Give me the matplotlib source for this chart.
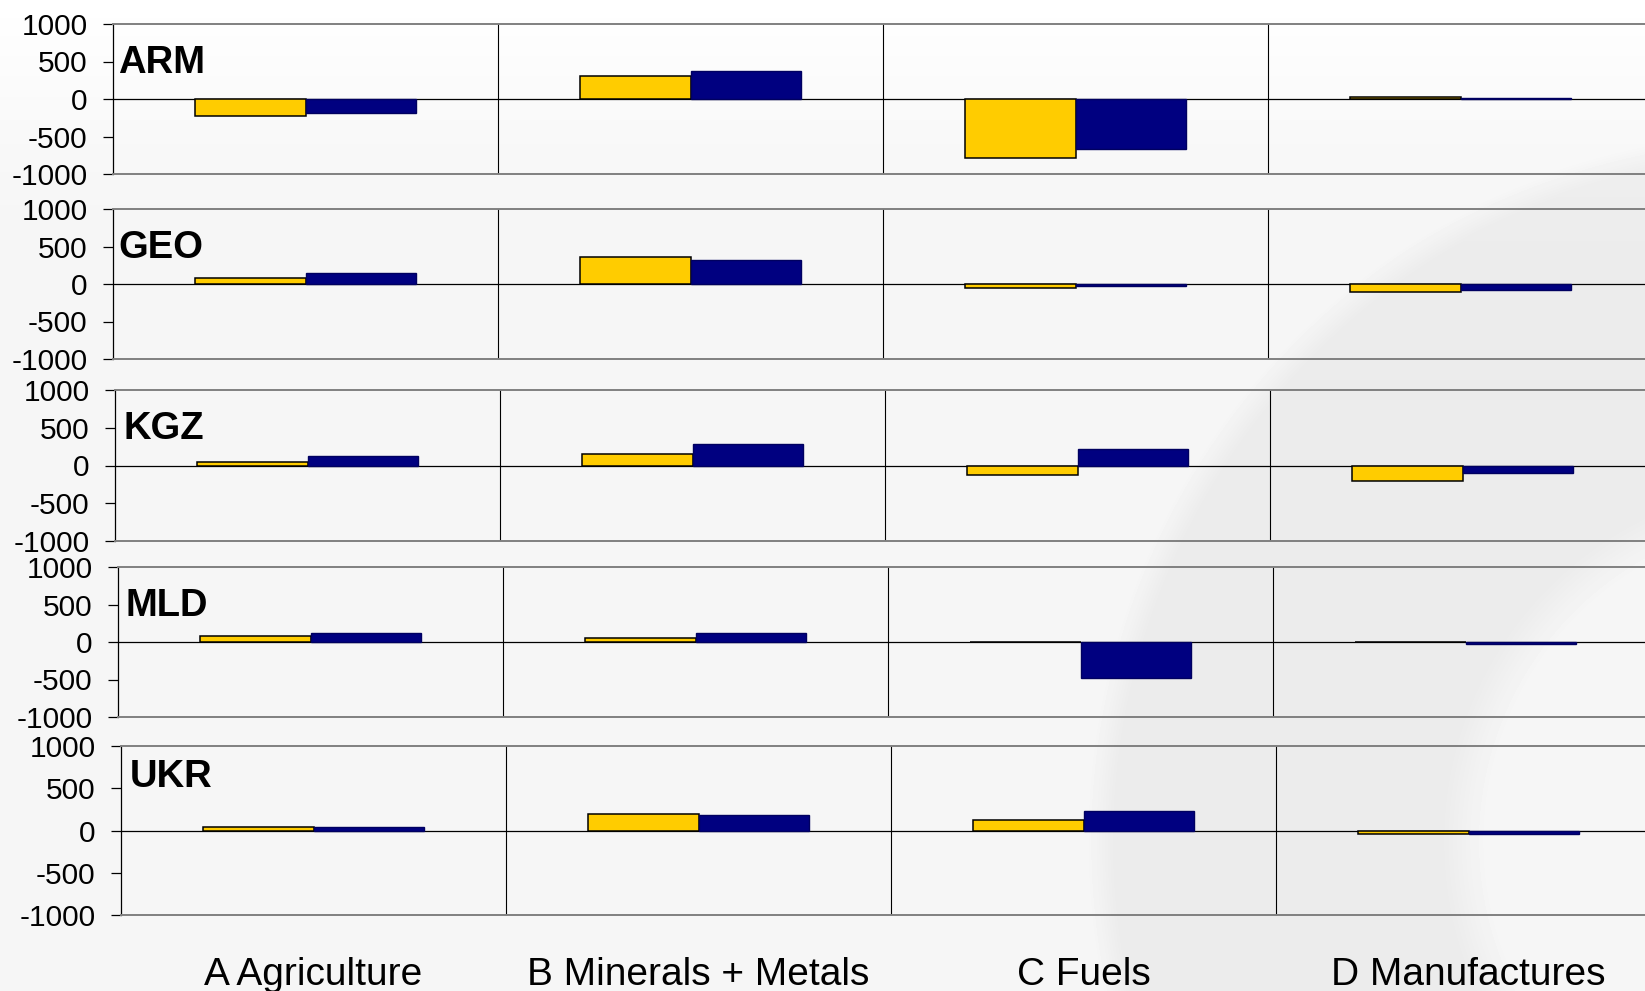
import numpy as np
import matplotlib.pyplot as plt

plt.rcParams['font.family'] = ['Liberation Sans', 'DejaVu Sans']
plt.rcParams['axes.unicode_minus'] = False

# data
categories = ['A Agriculture', 'B Minerals + Metals', 'C Fuels', 'D Manufactures']
countries = ['ARM', 'GEO', 'KGZ', 'MLD', 'UKR']

yellow_vals = {
    'ARM': [-230, 305, -780, 25],
    'GEO': [75, 355, -55, -100],
    'KGZ': [50, 155, -130, -210],
    'MLD': [80, 55, 0, 0],
    'UKR': [45, 190, 120, -45],
}
navy_vals = {
    'ARM': [-180, 375, -660, 15],
    'GEO': [145, 326, -25, -80],
    'KGZ': [125, 279, 225, -105],
    'MLD': [125, 124, -480, -25],
    'UKR': [40, 178, 230, -40],
}

W, H = 1645, 991
fig = plt.figure(figsize=(W / 100, H / 100), dpi=100)

# background: light gray, fading to white at top, with a soft darker arc band
yy, xx = np.mgrid[0:H, 0:W]
img = 0.961 + 0.039 * np.clip(1 - yy / 260.0, 0, 1) ** 1.5
d = np.sqrt((xx - 1803) ** 2 + (yy - 841) ** 2)
band = np.clip((715 - d) / 25.0, 0, 1) * np.clip((d - 320) / 40.0, 0, 1)
img = img - 0.036 * band
bg = fig.add_axes([0, 0, 1, 1], zorder=-10)
bg.imshow(img, cmap='gray', vmin=0, vmax=1, aspect='auto', interpolation='bilinear')
bg.axis('off')

# panel geometry in pixels: left, top, bottom, label x, label baseline
panels = [
    (113, 24, 174, 118, 73),
    (113, 209, 359, 118, 258),
    (115, 390, 541, 124, 439),
    (118, 567, 717, 125, 616),
    (121, 746, 915, 130, 787),
]
cat_w = 385  # px per category
bw = 0.287

x = np.arange(len(categories)) + 0.5
for name, (left, top, bottom, lx, ly) in zip(countries, panels):
    ax = fig.add_axes([left / W, 1 - bottom / H, 4 * cat_w / W, (bottom - top) / H])
    ax.patch.set_alpha(0)
    ax.bar(x - bw / 2, yellow_vals[name], bw, color='#FFCC00', edgecolor='black', linewidth=1.1, zorder=3)
    ax.bar(x + bw / 2, navy_vals[name], bw, color='#000080', edgecolor='#000060', linewidth=1, zorder=3)
    ax.axhline(0, color='black', lw=0.9, zorder=2)
    for i in range(1, 4):
        ax.axvline(i, color='black', lw=0.8, zorder=1)
    ax.set_xlim(0, 4)
    ax.set_ylim(-1000, 1000)
    ax.set_xticks([])
    ax.set_yticks([-1000, -500, 0, 500, 1000])
    ax.tick_params(axis='y', labelsize=21.5, length=7.2, width=0.9, pad=11)
    for t in ax.yaxis.get_major_ticks():
        t.tick1line.set_color('black')
    ax.yaxis.get_major_ticks()[0].tick1line.set_color('#808080')
    ax.yaxis.get_major_ticks()[-1].tick1line.set_color('#808080')
    ax.spines['right'].set_visible(False)
    ax.spines['left'].set_color('black')
    ax.spines['left'].set_linewidth(0.9)
    for s in ['top', 'bottom']:
        ax.spines[s].set_color('#808080')
        ax.spines[s].set_linewidth(1.4)
    fig.text(lx / W, 1 - ly / H, name, fontsize=27.5, fontweight='bold', va='baseline', ha='left')

# category names under the bottom panel
left0 = panels[-1][0]
for i, c in enumerate(categories):
    fig.text((left0 + (i + 0.5) * cat_w) / W, 1 - 985 / H, c, fontsize=28, ha='center', va='baseline')

fig.savefig('out.png', dpi=100)
